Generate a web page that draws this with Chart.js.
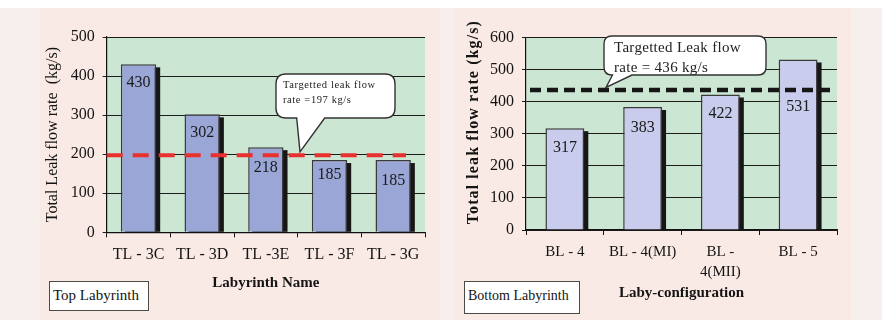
<!DOCTYPE html>
<html>
<head>
<meta charset="utf-8">
<script src="https://cdn.jsdelivr.net/npm/chart.js@4/dist/chart.umd.min.js"></script>
<style>
  html, body { margin: 0; padding: 0; }
  body { width: 882px; height: 320px; position: relative; overflow: hidden; background: #ffffff;
         font-family: "Liberation Serif", "Times New Roman", serif; }
  #sheet { position: absolute; left: 0; top: 8px; width: 882px; height: 312px; background: #F7EFEC; }
  .panel { position: absolute; top: 8px; height: 312px; background: #FAEAE5; }
  #panelTop { left: 40px; width: 400px; }
  #panelBottom { left: 455px; width: 396px; }
  canvas { position: absolute; left: 0; top: 0; }
  .tag { position: absolute; background: #fff; border: 1.5px solid #4a4a4a; box-sizing: border-box;
         color: #141414; white-space: nowrap; }
  #tagTop { left: 49px; top: 281px; width: 100px; height: 30px; font-size: 15px; line-height: 26px; padding-left: 3px; }
  #tagBottom { left: 464px; top: 281px; width: 116px; height: 33px; font-size: 14px; line-height: 27px; padding-left: 3px; }
</style>
</head>
<body>
<div id="sheet"></div>
<div class="panel" id="panelTop"><canvas id="topChart" width="400" height="312"></canvas></div>
<div class="panel" id="panelBottom"><canvas id="bottomChart" width="396" height="312"></canvas></div>
<div class="tag" id="tagTop">Top Labyrinth</div>
<div class="tag" id="tagBottom">Bottom Labyrinth</div>
<script>
// ---- data ----
const topNames = ['TL - 3C', 'TL - 3D', 'TL -3E', 'TL - 3F', 'TL - 3G'];
const topFlow = [430, 302, 218, 185, 185];
const topTarget = 197;
const topTicks = [0, 100, 200, 300, 400, 500];

const bottomNames = ['BL - 4', 'BL - 4(MI)', ['BL -', '4(MII)'], 'BL - 5'];
const bottomFlow = [317, 383, 422, 531];
const bottomTarget = 436;
const bottomTicks = [0, 100, 200, 300, 400, 500, 600];

const SERIF = '"Liberation Serif", "Times New Roman", Times, serif';
Chart.defaults.font.family = SERIF;
Chart.defaults.color = '#141414';

// plot background, bar shadows, value labels, target line, callout and y title
const chartDecor = {
  id: 'chartDecor',
  beforeDraw(chart, _args, o) {
    const { ctx, chartArea: a } = chart;
    ctx.save();
    ctx.fillStyle = o.plotColor;
    ctx.fillRect(a.left, a.top, a.right - a.left, a.bottom - a.top);
    ctx.restore();
  },
  beforeDatasetsDraw(chart, _args, o) {
    const { ctx } = chart;
    ctx.save();
    ctx.fillStyle = o.shadowColor;
    chart.getDatasetMeta(0).data.forEach(bar => {
      const { x, y, base, width } = bar.getProps(['x', 'y', 'base', 'width'], true);
      ctx.fillRect(x - width / 2 + o.shadowDx, y + o.shadowDy, width, base - y - o.shadowDy);
    });
    ctx.restore();
  },
  afterDatasetsDraw(chart, _args, o) {
    const { ctx, chartArea: a } = chart;
    const ys = chart.scales.y;
    const values = chart.data.datasets[0].data;
    ctx.save();

    // values inside the bars
    ctx.font = o.valueFontSize + 'px ' + SERIF;
    ctx.fillStyle = '#1a1a1a';
    ctx.textAlign = 'center';
    ctx.textBaseline = 'middle';
    chart.getDatasetMeta(0).data.forEach((bar, i) => {
      ctx.fillText(String(values[i]), bar.x, bar.y + o.valueOffsets[i]);
    });

    // dashed target line
    const ty = ys.getPixelForValue(o.target);
    ctx.strokeStyle = o.lineColor;
    ctx.lineWidth = o.lineWidth;
    ctx.setLineDash(o.dash);
    ctx.beginPath();
    ctx.moveTo(a.left + o.lineFrom, ty);
    ctx.lineTo(a.right - o.lineTo, ty);
    ctx.stroke();
    ctx.setLineDash([]);

    // speech-bubble callout pointing at the target line
    const c = o.callout;
    const L = a.left + c.x, T = a.top + c.y, R = L + c.w, B = T + c.h, r = c.r;
    const b1 = a.left + c.base[0], b2 = a.left + c.base[1];
    const tipX = a.left + c.tipX, tipY = ty + c.tipDy;
    ctx.beginPath();
    ctx.moveTo(L + r, T);
    ctx.lineTo(R - r, T); ctx.quadraticCurveTo(R, T, R, T + r);
    ctx.lineTo(R, B - r); ctx.quadraticCurveTo(R, B, R - r, B);
    ctx.lineTo(b2, B); ctx.lineTo(tipX, tipY); ctx.lineTo(b1, B);
    ctx.lineTo(L + r, B); ctx.quadraticCurveTo(L, B, L, B - r);
    ctx.lineTo(L, T + r); ctx.quadraticCurveTo(L, T, L + r, T);
    ctx.closePath();
    ctx.fillStyle = '#ffffff';
    ctx.fill();
    ctx.strokeStyle = '#333333';
    ctx.lineWidth = 1.4;
    ctx.stroke();
    ctx.fillStyle = '#222222';
    ctx.textAlign = 'left';
    ctx.textBaseline = 'middle';
    ctx.font = c.fontSize + 'px ' + SERIF;
    ctx.letterSpacing = c.spacing + 'px';
    c.lines.forEach((t, i) => ctx.fillText(t, L + c.textX, T + c.lineY[i]));
    ctx.letterSpacing = '0px';
    ctx.restore();
  },
  afterDraw(chart, _args, o) {
    const { ctx, chartArea: a } = chart;
    const t = o.yTitle;
    ctx.save();
    ctx.translate(t.x, (a.top + a.bottom) / 2 + t.dy);
    ctx.rotate(-Math.PI / 2);
    ctx.font = (t.bold ? 'bold ' : '') + t.size + 'px ' + SERIF;
    ctx.letterSpacing = t.spacing + 'px';
    ctx.fillStyle = '#141414';
    ctx.textAlign = 'center';
    ctx.textBaseline = 'middle';
    ctx.fillText(t.text, 0, 0);
    ctx.restore();
  }
};

function buildChart(id, p) {
  return new Chart(document.getElementById(id), {
    type: 'bar',
    data: {
      labels: p.names,
      datasets: [{
        data: p.values,
        backgroundColor: p.barColor,
        borderColor: '#3a3a3a',
        borderWidth: 1.5,
        barPercentage: p.barPct,
        categoryPercentage: 1
      }]
    },
    options: {
      responsive: false,
      animation: false,
      devicePixelRatio: 1,
      layout: { padding: { left: 0, top: p.padTop, right: p.padRight, bottom: 0 } },
      plugins: {
        legend: { display: false },
        tooltip: { enabled: false },
        chartDecor: p.decor
      },
      scales: {
        x: {
          afterFit: s => { s.height = p.xAxisHeight; },
          grid: { display: true, drawOnChartArea: false, drawTicks: true, tickLength: 5, color: '#111', offset: true },
          border: { color: '#111', width: 1.2 },
          ticks: { font: { size: p.xTickSize, lineHeight: p.xTickLine }, padding: p.xTickPad, color: '#141414', maxRotation: 0, autoSkip: false },
          title: { display: true, text: p.xTitle, font: { size: 15, weight: 'bold' }, padding: { top: 0, bottom: p.xTitlePad }, color: '#141414' }
        },
        y: {
          min: p.ticks[0],
          max: p.ticks[p.ticks.length - 1],
          afterFit: s => { s.width = p.yAxisWidth; },
          afterBuildTicks: s => { s.ticks = p.ticks.map(v => ({ value: v })); },
          grid: { color: '#1c1c1c', lineWidth: 1, tickLength: 4, drawTicks: true },
          border: { color: '#111', width: 1.2 },
          ticks: { font: { size: 16 }, padding: 8, color: '#141414' }
        }
      }
    },
    plugins: [chartDecor]
  });
}

buildChart('topChart', {
  names: topNames, values: topFlow, ticks: topTicks,
  barColor: '#9AA6D6', barPct: 0.555,
  padTop: 29, padRight: 15, yAxisWidth: 66.7, xAxisHeight: 87.7,
  xTickSize: 16, xTickLine: 1.2, xTickPad: 7.4,
  xTitle: 'Labyrinth Name', xTitlePad: 28,
  decor: {
    plotColor: '#CCE6D4', shadowColor: '#161616', shadowDx: 4, shadowDy: 3,
    valueFontSize: 16, valueOffsets: [18, 18, 21, 15, 21],
    target: topTarget, lineColor: '#E8302E', lineWidth: 4, dash: [16, 10], lineFrom: 0, lineTo: 19,
    callout: {
      x: 169.3, y: 37, w: 119, h: 44, r: 10, base: [190, 218], tipX: 193.3, tipDy: -3.5,
      fontSize: 10.5, spacing: 0.6, textX: 7, lineY: [11, 26],
      lines: ['Targetted leak flow', 'rate =' + topTarget + ' kg/s']
    },
    yTitle: { text: 'Total Leak flow rate  (kg/s)', x: 13, dy: 0, size: 16, bold: false, spacing: 0 }
  }
});

buildChart('bottomChart', {
  names: bottomNames, values: bottomFlow, ticks: bottomTicks,
  barColor: '#C9CCEC', barPct: 0.5,
  padTop: 29.3, padRight: 14, yAxisWidth: 71, xAxisHeight: 90,
  xTickSize: 15, xTickLine: 1.33, xTickPad: 6.7,
  xTitle: 'Laby-configuration', xTitlePad: 18,
  decor: {
    plotColor: '#CCE6D4', shadowColor: '#161616', shadowDx: 4, shadowDy: 3,
    valueFontSize: 16, valueOffsets: [20, 21, 19.5, 47.5],
    target: bottomTarget, lineColor: '#161616', lineWidth: 4.5, dash: [11, 6], lineFrom: 4, lineTo: 4,
    callout: {
      x: 78, y: -1.3, w: 162, h: 39, r: 8, base: [86.5, 106], tipX: 80, tipDy: -2.5,
      fontSize: 15, spacing: 0.3, textX: 10, lineY: [12, 32],
      lines: ['Targetted Leak flow', 'rate = ' + bottomTarget + ' kg/s']
    },
    yTitle: { text: 'Total leak flow rate (kg/s)', x: 19, dy: -11.5, size: 16, bold: true, spacing: 1.1 }
  }
});
</script>
</body>
</html>
